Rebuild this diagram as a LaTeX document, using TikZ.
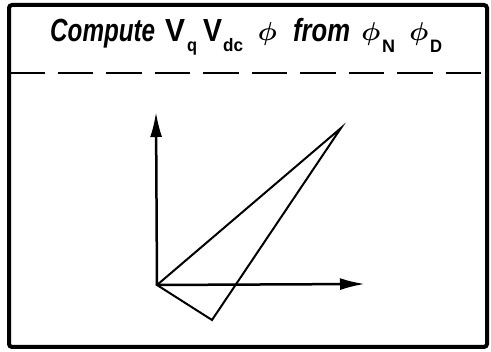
\documentclass[tikz,border=0pt]{standalone}
\usepackage{fontspec}
\setmainfont{Liberation Sans}
\usetikzlibrary{arrows.meta}
\tikzset{
  frame/.style={line width=4pt, rounded corners=3pt},
  sep/.style={line width=2.5pt, dash pattern=on 35.5pt off 13pt},
  axis/.style={line width=2.5pt, -{Latex[length=25pt,width=12pt]}},
  vec/.style={line width=2pt, line join=miter},
  txt/.style={anchor=base west, inner sep=0pt, font=\fontsize{32}{32}\selectfont\bfseries},
  sub/.style={anchor=base west, inner sep=0pt, font=\fontsize{18}{18}\selectfont\bfseries},
  phi/.style={anchor=center, inner sep=0pt},
}
\newcommand{\fitw}[2]{\resizebox{#1pt}{\height}{#2}}
\newcommand{\myphi}{\resizebox*{19pt}{23pt}{$\boldsymbol{\phi}$}}
\usepackage{amsmath}
\begin{document}
\begin{tikzpicture}[x=1pt,y=-1pt]
\useasboundingbox (0,0) rectangle (491,352);
\draw[frame] (9,5) rectangle (487,347);
\draw[sep] (9,73) -- (487,73);
\node[txt] (w1) at (50,42) {\fitw{105}{\itshape Compute}};
\node[txt] (v1) at (165,42) {\fitw{20}{V}};
\node[sub] (s1) at (187,52) {\fitw{10}{q}};
\node[txt] (v2) at (203,42) {\fitw{19}{V}};
\node[sub] (s2) at (223,52) {\fitw{20}{dc}};
\node[phi] (p1) at (267.5,34.5) {\myphi};
\node[txt] (w2) at (293,42) {\fitw{57}{\itshape from}};
\node[phi] (p2) at (371,34.5) {\myphi};
\node[sub] (s3) at (382,53) {\fitw{13}{N}};
\node[phi] (p3) at (419,34.5) {\myphi};
\node[sub] (s4) at (430,53) {\fitw{12}{D}};
\coordinate (O) at (157,285);
\coordinate (Y) at (156,112);
\coordinate (X) at (365,284);
\coordinate (A) at (341,128);
\coordinate (B) at (212,320);
\draw[axis] (O) -- (Y);
\draw[axis] (O) -- (X);
\draw[vec] (O) -- (A) -- (B) -- cycle;
\end{tikzpicture}
\end{document}
